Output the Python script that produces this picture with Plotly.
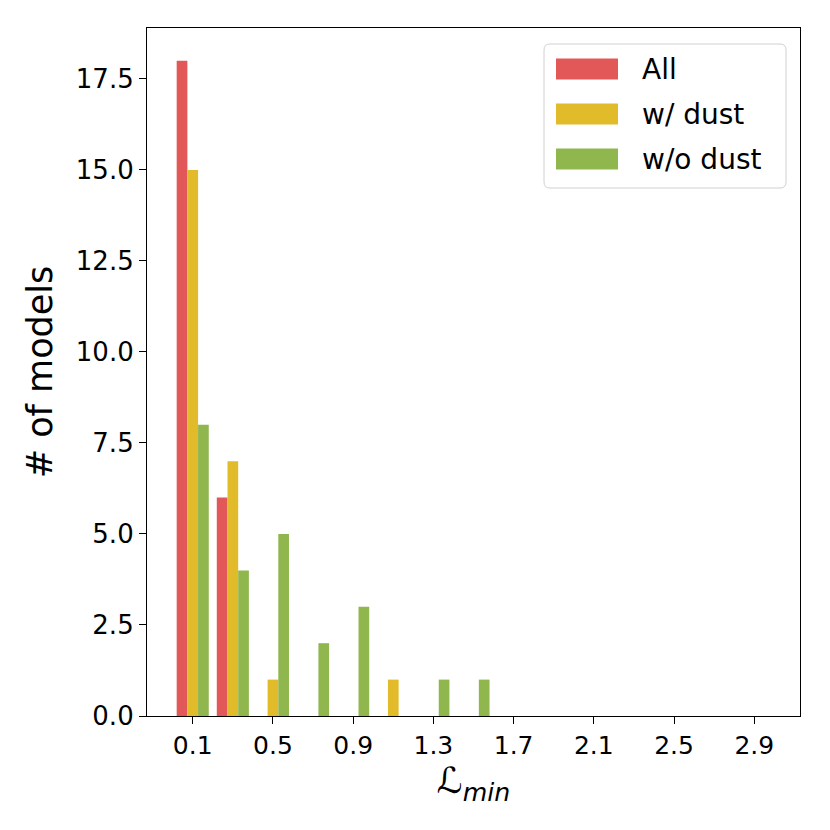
import plotly.graph_objects as go

# ---- data ----
bin_centers = [0.1, 0.3, 0.5, 0.7, 0.9, 1.1, 1.3, 1.5, 1.7, 1.9, 2.1, 2.3, 2.5, 2.7, 2.9]
all_counts = [18, 6, 0, 0, 0, 0, 0, 0, 0, 0, 0, 0, 0, 0, 0]
dust_counts = [15, 7, 1, 0, 0, 1, 0, 0, 0, 0, 0, 0, 0, 0, 0]
nodust_counts = [8, 4, 5, 2, 3, 0, 1, 1, 0, 0, 0, 0, 0, 0, 0]
series_names = ["All", "w/ dust", "w/o dust"]
series_colors = ["#E25757", "#E1BB2A", "#8FB74E"]
x_tickvals = [0.1, 0.5, 0.9, 1.3, 1.7, 2.1, 2.5, 2.9]
y_tickvals = [0, 2.5, 5, 7.5, 10, 12.5, 15, 17.5]

FONT = "DejaVu Sans"
W, H = 830, 830
OFF = 8  # page body margin
L, R, T, B = 147 - OFF, 800 - OFF, 28 - OFF, 716 - OFF  # plot area in figure pixels

fig = go.Figure()
for name, vals, col in zip(series_names, [all_counts, dust_counts, nodust_counts], series_colors):
    fig.add_trace(go.Bar(x=bin_centers, y=vals, name=name, marker=dict(color=col, line=dict(width=0)),
                         showlegend=False))

def px_x(p):
    return (p - OFF - L) / (R - L)

def px_y(p):
    return (B - (p - OFF)) / (B - T)

shapes = []
annotations = []
# legend box (rounded)
x0, x1, y0, y1 = px_x(544), px_x(786), px_y(44), px_y(188)
rx, ry = 6 / (R - L), 6 / (B - T)
path = (f"M {x0+rx},{y0} L {x1-rx},{y0} Q {x1},{y0} {x1},{y0-ry} "
        f"L {x1},{y1+ry} Q {x1},{y1} {x1-rx},{y1} L {x0+rx},{y1} Q {x0},{y1} {x0},{y1+ry} "
        f"L {x0},{y0-ry} Q {x0},{y0} {x0+rx},{y0} Z")
shapes.append(dict(type="path", xref="paper", yref="paper", path=path,
                   fillcolor="rgba(255,255,255,0.8)", line=dict(color="#d0d0d0", width=1)))
row_centers = [69, 114, 159]
for name, col, cy in zip(series_names, series_colors, row_centers):
    shapes.append(dict(type="rect", xref="paper", yref="paper",
                       x0=px_x(556), x1=px_x(618), y0=px_y(cy - 10.5), y1=px_y(cy + 10.5),
                       fillcolor=col, line=dict(width=0)))
    annotations.append(dict(xref="paper", yref="paper", x=px_x(640), y=px_y(cy), text=name,
                            showarrow=False, xanchor="left", yanchor="middle",
                            font=dict(family=FONT, size=28, color="black")))

fig.update_layout(
    width=W, height=H,
    margin=dict(l=L, r=W - R, t=T, b=H - B, autoexpand=False),
    paper_bgcolor="white", plot_bgcolor="white",
    barmode="group", bargap=0.2, bargroupgap=0,
    font=dict(family=FONT, size=25, color="black"),
    shapes=shapes, annotations=annotations,
    xaxis=dict(range=[-0.128, 3.128], tickvals=x_tickvals, ticktext=[f"{v:.1f}" for v in x_tickvals],
               showgrid=False, zeroline=False, showline=True, linecolor="black", linewidth=1.2,
               mirror=True, ticks="outside", ticklen=7, tickwidth=1.2, tickcolor="black",
               tickfont=dict(family=FONT, size=25),
               title=dict(text="ℒ<sub><i>min</i></sub>", font=dict(family=FONT, size=36), standoff=2)),
    yaxis=dict(range=[0, 18.9], tickvals=y_tickvals, ticktext=[f"{v:.1f}" for v in y_tickvals],
               showgrid=False, zeroline=False, showline=True, linecolor="black", linewidth=1.2,
               mirror=True, ticks="outside", ticklen=7, tickwidth=1.2, tickcolor="black",
               tickfont=dict(family=FONT, size=26),
               title=dict(text="# of models", font=dict(family=FONT, size=35), standoff=12)),
)

fig.write_html("out.html")
